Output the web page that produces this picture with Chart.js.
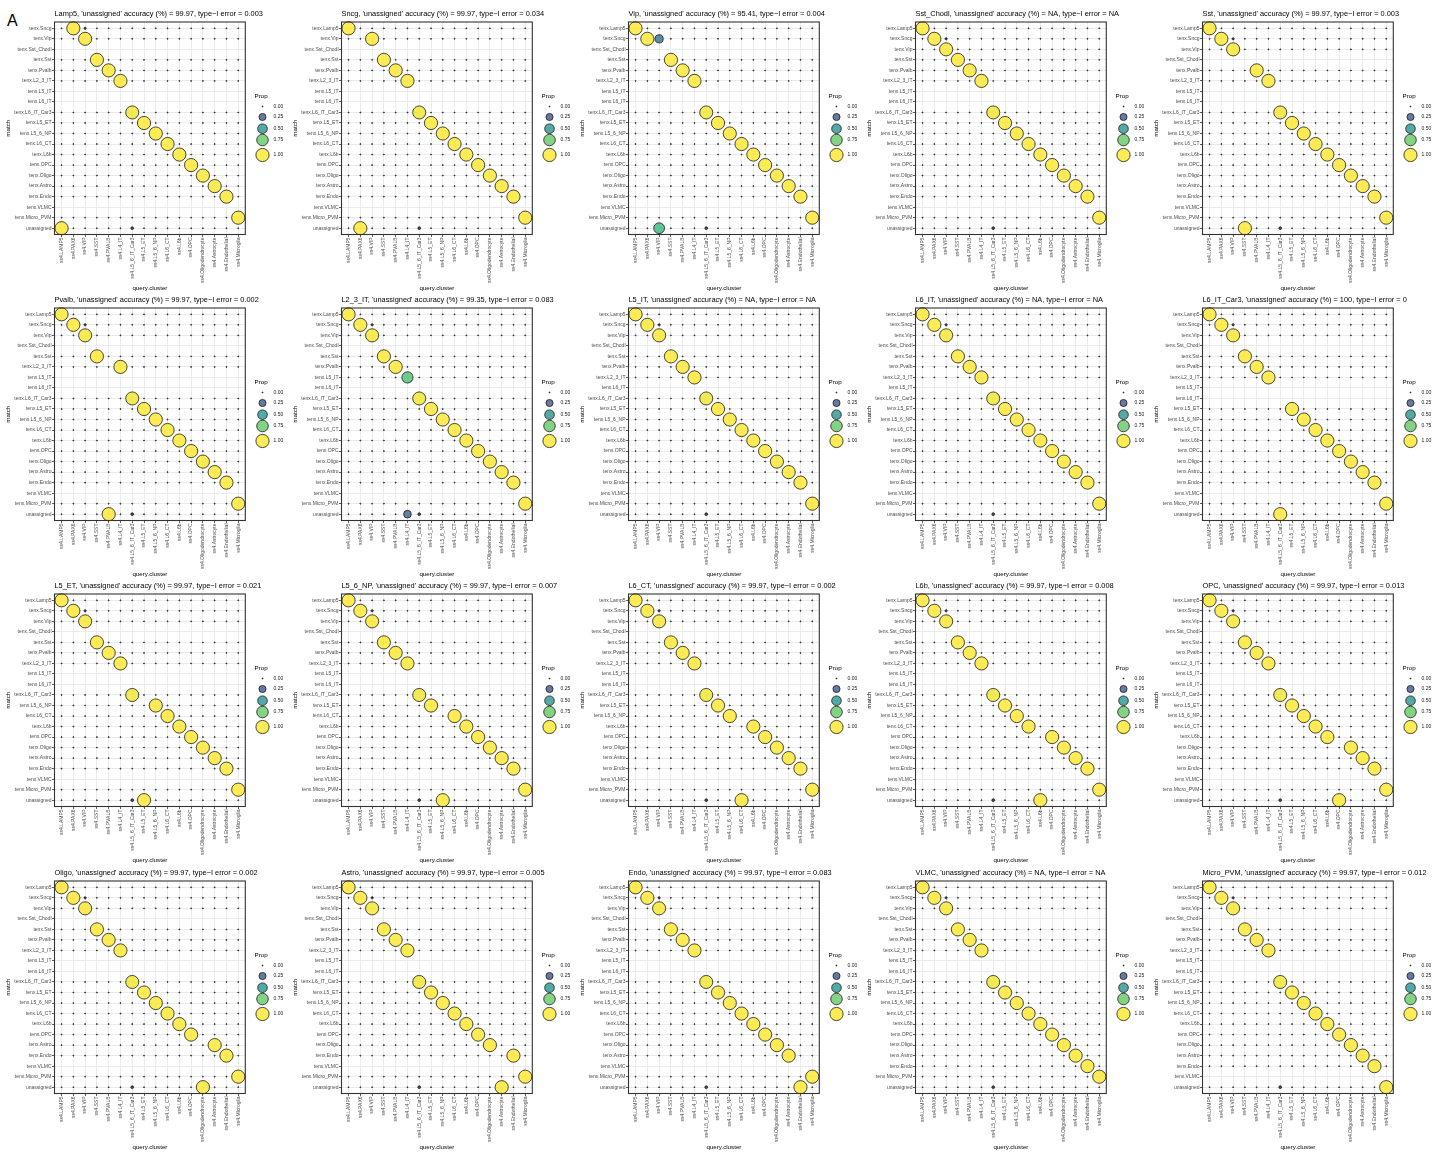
<!DOCTYPE html>
<html>
<head>
<meta charset="utf-8">
<script src="https://cdn.jsdelivr.net/npm/chart.js@4.4.1/dist/chart.umd.min.js"></script>
<style>
  html, body { margin: 0; padding: 0; background: #ffffff; }
  #fig { position: relative; width: 1440px; height: 1157px; overflow: hidden; font-family: 'Liberation Sans', Arial, sans-serif; }
  .panel { position: absolute; width: 288px; height: 296px; }
  .tag { position: absolute; left: 7px; top: 13px; font-size: 16px; line-height: 16px; color: #000; }
</style>
</head>
<body>
<div id="fig"><div class="tag">A</div></div>
<script>
// Query (Smart-seq4) clusters along the x axis
const queryClusters = [
  'ss4.LAMP5', 'ss4.PAX6', 'ss4.VIP', 'ss4.SST', 'ss4.PVALB', 'ss4.L4_IT',
  'ss4.L5_6_IT_Car3', 'ss4.L5_ET', 'ss4.L5_6_NP', 'ss4.L6_CT', 'ss4.L6b', 'ss4.OPC',
  'ss4.Oligodendrocyte', 'ss4.Astrocyte', 'ss4.Endothelial', 'ss4.Microglia'
];

// 10x reference types; each panel leaves one of them out of the reference
const referenceTypes = [
  'Lamp5', 'Sncg', 'Vip', 'Sst_Chodl', 'Sst', 'Pvalb', 'L2_3_IT', 'L5_IT', 'L6_IT', 'L6_IT_Car3',
  'L5_ET', 'L5_6_NP', 'L6_CT', 'L6b', 'OPC', 'Oligo', 'Astro', 'Endo', 'VLMC', 'Micro_PVM'
];

const unassignedAccuracy = [
  '99.97', '99.97', '95.41', 'NA', '99.97', '99.97', '99.35', 'NA', 'NA', '100',
  '99.97', '99.97', '99.97', '99.97', '99.97', '99.97', '99.97', '99.97', 'NA', '99.97'
];
const typeIError = [
  '0.003', '0.034', '0.004', 'NA', '0.003', '0.002', '0.083', 'NA', 'NA', '0',
  '0.021', '0.007', '0.002', '0.008', '0.013', '0.002', '0.005', '0.083', 'NA', '0.012'
];

// Matches with the full reference: [query index, matched type, proportion]
const fullReferenceMatches = [
  [0, 'Lamp5', 1], [1, 'Sncg', 1], [2, 'Vip', 0.99], [2, 'Sncg', 0.01], [3, 'Sst', 1],
  [4, 'Pvalb', 1], [5, 'L2_3_IT', 1], [6, 'L6_IT_Car3', 0.98], [6, 'unassigned', 0.02],
  [7, 'L5_ET', 1], [8, 'L5_6_NP', 1], [9, 'L6_CT', 1], [10, 'L6b', 1], [11, 'OPC', 1],
  [12, 'Oligo', 1], [13, 'Astro', 1], [14, 'Endo', 1], [15, 'Micro_PVM', 1]
];

// Query clusters whose matches change once the type is left out (replace the entries above)
const leaveOutMatches = [
  [[0, 'unassigned', 1]],                              // Lamp5
  [[1, 'unassigned', 1], [2, 'Vip', 1]],               // Sncg
  [[2, 'Sncg', 0.35], [2, 'unassigned', 0.65]],        // Vip
  [],                                                  // Sst_Chodl
  [[3, 'unassigned', 1]],                              // Sst
  [[4, 'unassigned', 1]],                              // Pvalb
  [[5, 'L5_IT', 0.7], [5, 'unassigned', 0.3]],         // L2_3_IT
  [],                                                  // L5_IT
  [],                                                  // L6_IT
  [[6, 'unassigned', 1]],                              // L6_IT_Car3
  [[7, 'unassigned', 1]],                              // L5_ET
  [[8, 'unassigned', 1]],                              // L5_6_NP
  [[9, 'unassigned', 1]],                              // L6_CT
  [[10, 'unassigned', 1]],                             // L6b
  [[11, 'unassigned', 1]],                             // OPC
  [[12, 'unassigned', 1]],                             // Oligo
  [[13, 'unassigned', 1]],                             // Astro
  [[14, 'unassigned', 1]],                             // Endo
  [],                                                  // VLMC
  [[15, 'unassigned', 1]]                              // Micro_PVM
];

const legendValues = [0, 0.25, 0.5, 0.75, 1];
const legendLabels = ['0.00', '0.25', '0.50', '0.75', '1.00'];

const FONT = "'Liberation Sans', Arial, sans-serif";

// viridis colour ramp for the proportion
const viridisStops = ['#440154', '#482475', '#414487', '#355F8D', '#2A788E', '#21918C',
                      '#22A884', '#44BF70', '#7AD151', '#BDDF26', '#FDE725'];
function hexRgb(h) { return [1, 3, 5].map(i => parseInt(h.slice(i, i + 2), 16)); }
function fillFor(p) {
  const t = Math.max(0, Math.min(1, p)) * (viridisStops.length - 1);
  const i = Math.min(Math.floor(t), viridisStops.length - 2);
  const f = t - i;
  const a = hexRgb(viridisStops[i]), b = hexRgb(viridisStops[i + 1]);
  const c = a.map((v, k) => Math.round(v + (b[k] - v) * f));
  return `rgba(${c[0]},${c[1]},${c[2]},0.78)`;
}
// area-style size scale
function radiusFor(p) { return 0.5 + 6.1 * Math.sqrt(p); }

const panelDecor = {
  id: 'panelDecor',
  afterDatasetsDraw(chart) {
    const { ctx, chartArea: a } = chart;
    ctx.save();
    ctx.strokeStyle = '#333333';
    ctx.lineWidth = 1.1;
    ctx.strokeRect(a.left, a.top, a.right - a.left, a.bottom - a.top);
    ctx.restore();
  },
  afterDraw(chart, args, opts) {
    const { ctx, chartArea: a } = chart;
    ctx.save();
    ctx.fillStyle = '#000';
    ctx.textBaseline = 'alphabetic';
    ctx.textAlign = 'left';
    ctx.font = `7.4px ${FONT}`;
    ctx.fillText(opts.title, a.left, 16.3);

    // size / colour legend
    ctx.font = `6.2px ${FONT}`;
    ctx.textBaseline = 'middle';
    ctx.fillText('Prop', 254.5, 96.3);
    const ys = [106.5, 117, 128.7, 140, 155];
    ctx.font = `5px ${FONT}`;
    legendValues.forEach((v, i) => {
      ctx.beginPath();
      ctx.arc(262.5, ys[i], radiusFor(v), 0, Math.PI * 2);
      ctx.fillStyle = fillFor(v);
      ctx.fill();
      ctx.lineWidth = 0.8;
      ctx.strokeStyle = '#1a1a1a';
      ctx.stroke();
      ctx.fillStyle = '#1a1a1a';
      ctx.fillText(legendLabels[i], 273.5, ys[i]);
    });
    ctx.restore();
  }
};

const colLeft = [0, 287, 574, 861, 1148];
const rowTop = [0, 286, 572, 859];
const fig = document.getElementById('fig');

referenceTypes.forEach((held, k) => {
  const rows = referenceTypes.filter(t => t !== held).concat(['unassigned']);
  const rowLabels = rows.map(t => t === 'unassigned' ? t : 'tenx.' + t);

  const changed = new Set(leaveOutMatches[k].map(m => m[0]));
  const matches = fullReferenceMatches.filter(m => !changed.has(m[0])).concat(leaveOutMatches[k]);

  // every matched type gets a point for each query cluster (zero where nothing matched)
  const present = rows.filter(r => matches.some(m => m[1] === r));
  const points = [];
  present.forEach(r => {
    queryClusters.forEach((q, qi) => {
      if (!matches.some(m => m[0] === qi && m[1] === r)) {
        points.push({ x: qi, y: rows.indexOf(r), r: radiusFor(0), p: 0 });
      }
    });
  });
  matches.slice().sort((a, b) => a[2] - b[2]).forEach(m => {
    points.push({ x: m[0], y: rows.indexOf(m[1]), r: radiusFor(m[2]), p: m[2] });
  });

  const canvas = document.createElement('canvas');
  canvas.className = 'panel';
  canvas.width = 288; canvas.height = 296;
  canvas.style.left = colLeft[k % 5] + 'px';
  canvas.style.top = rowTop[Math.floor(k / 5)] + 'px';
  fig.appendChild(canvas);

  const title = `${held}, 'unassigned' accuracy (%) = ${unassignedAccuracy[k]}, type\u2212I error = ${typeIError[k]}`;

  new Chart(canvas, {
    type: 'bubble',
    data: {
      datasets: [{
        data: points,
        backgroundColor: ctx => fillFor(ctx.raw ? ctx.raw.p : 0),
        borderColor: '#1a1a1a',
        borderWidth: 0.8,
        clip: false
      }]
    },
    options: {
      responsive: false,
      animation: false,
      events: [],
      layout: { padding: { left: 0, top: 22, right: 42.7, bottom: 0 } },
      plugins: {
        legend: { display: false },
        tooltip: { enabled: false },
        panelDecor: { title }
      },
      scales: {
        x: {
          type: 'linear', min: -0.6, max: queryClusters.length - 0.4,
          afterBuildTicks: s => { s.ticks = queryClusters.map((_, i) => ({ value: i })); },
          afterFit: s => { s.height = 61.5; },
          ticks: {
            autoSkip: false, minRotation: 90, maxRotation: 90, padding: 0.5,
            color: '#4D4D4D', font: { size: 5, family: FONT },
            callback: v => queryClusters[v]
          },
          grid: { color: '#EBEBEB', lineWidth: 1, tickColor: '#333333', tickLength: 2.5, tickWidth: 0.8 },
          border: { display: false },
          title: { display: true, text: 'query.cluster', color: '#000', font: { size: 6.2, family: FONT }, padding: { top: 0, bottom: 4.3 } }
        },
        y: {
          type: 'linear', reverse: true, min: -0.6, max: rows.length - 0.4,
          afterBuildTicks: s => { s.ticks = rows.map((_, i) => ({ value: i })); },
          afterFit: s => { s.width = 54.5; },
          ticks: {
            autoSkip: false, padding: 0.5,
            color: '#4D4D4D', font: { size: 5, family: FONT },
            callback: v => rowLabels[v]
          },
          grid: { color: '#EBEBEB', lineWidth: 1, tickColor: '#333333', tickLength: 2.5, tickWidth: 0.8 },
          border: { display: false },
          title: { display: true, text: 'match', color: '#000', font: { size: 6.2, family: FONT }, padding: { top: 5, bottom: 0 } }
        }
      }
    },
    plugins: [panelDecor]
  });
});
</script>
</body>
</html>
